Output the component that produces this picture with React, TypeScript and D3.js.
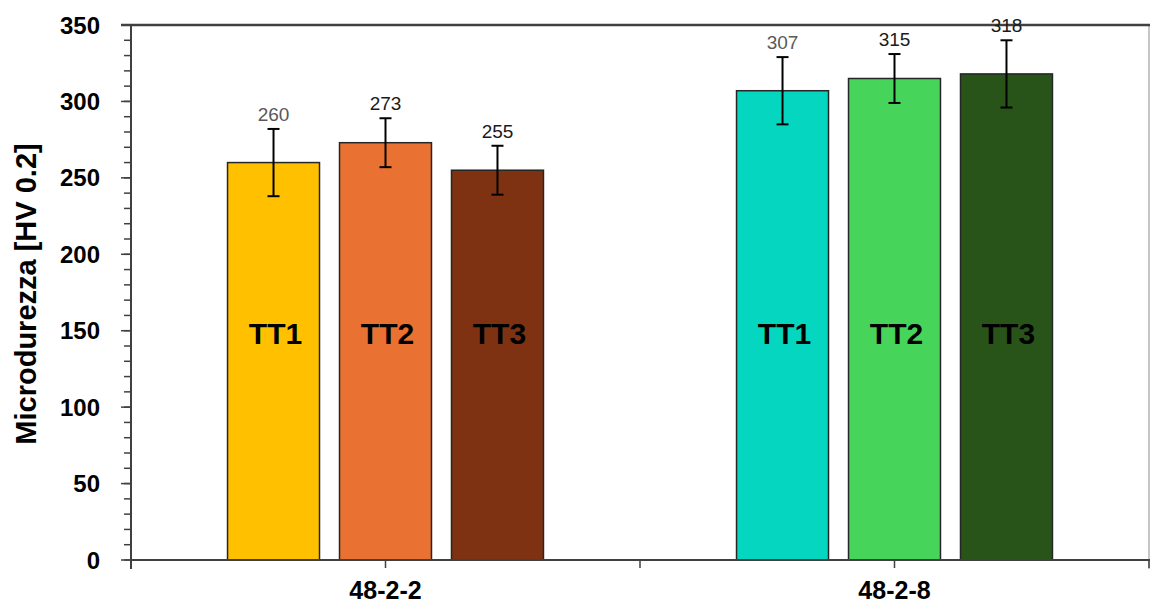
import React from "react";
import * as d3 from "d3";

// Microhardness of the two alloys after three heat treatments
const categories = ["48-2-2", "48-2-8"];
const treatments = ["TT1", "TT2", "TT3"];
const hardness48_2_2 = [260, 273, 255];
const hardness48_2_8 = [307, 315, 318];
const stdDev48_2_2 = [22, 16, 16];
const stdDev48_2_8 = [22, 16, 22];
const yTickValues = [0, 50, 100, 150, 200, 250, 300, 350];
const yMinorTickValues = d3.range(0, 351, 10);

const valuesByCategory = [hardness48_2_2, hardness48_2_8];
const errorsByCategory = [stdDev48_2_2, stdDev48_2_8];

const fills = [
  ["#FFC000", "#E97132", "#7E3211"],
  ["#04D6BF", "#47D45B", "#285419"],
];
const valueLabelColors = [
  ["#595959", "#1a1a1a", "#1a1a1a"],
  ["#595959", "#1a1a1a", "#1a1a1a"],
];

const W = 1150;
const H = 606;
const left = 131;
const right = 1149;
const top = 25;
const bottom = 560;
const FONT = "'Liberation Sans', Arial, sans-serif";

export default function App() {
  const y = d3.scaleLinear().domain([0, 350]).range([bottom, top]);
  const x = d3.scaleBand<string>().domain(categories).range([left, right]).padding(0);
  const inner = d3
    .scaleBand<string>()
    .domain(treatments)
    .range([0, x.bandwidth()])
    .paddingInner(0.1786)
    .paddingOuter(0.862);

  const xTicks: number[] = [];
  categories.forEach((c, i) => {
    const x0 = x(c)!;
    if (i === 0) xTicks.push(x0);
    xTicks.push(x0 + x.bandwidth() / 2, x0 + x.bandwidth());
  });

  const axisColor = "#404040";

  return (
    <svg
      width={W}
      height={H}
      style={{ position: "absolute", left: 0, top: 0, background: "#fff" }}
      fontFamily={FONT}
    >
      {/* frame */}
      <line x1={right} x2={right} y1={top} y2={bottom + 9} stroke="#b3b3b3" strokeWidth={1.5} />
      <line x1={left - 10} x2={right + 1} y1={top} y2={top} stroke={axisColor} strokeWidth={2.5} />

      {/* bars */}
      {categories.map((c, ci) =>
        treatments.map((t, ti) => {
          const v = valuesByCategory[ci][ti];
          const e = errorsByCategory[ci][ti];
          const bx = x(c)! + inner(t)!;
          const bw = inner.bandwidth();
          const cx = bx + bw / 2;
          return (
            <g key={c + t}>
              <rect
                x={bx}
                y={y(v)}
                width={bw}
                height={y(0) - y(v)}
                fill={fills[ci][ti]}
                stroke="#262626"
                strokeWidth={1.5}
              />
              <line x1={cx} x2={cx} y1={y(v + e)} y2={y(v - e)} stroke="#000" strokeWidth={2} />
              <line x1={cx - 6} x2={cx + 6} y1={y(v + e)} y2={y(v + e)} stroke="#000" strokeWidth={2} />
              <line x1={cx - 6} x2={cx + 6} y1={y(v - e)} y2={y(v - e)} stroke="#000" strokeWidth={2} />
              <text
                x={cx}
                y={y(v + e) - 8}
                textAnchor="middle"
                fontSize={19}
                fill={valueLabelColors[ci][ti]}
              >
                {v}
              </text>
              <text
                x={cx + 2}
                y={y(141)}
                textAnchor="middle"
                fontSize={30}
                fontWeight="bold"
                fill="#000"
              >
                {t}
              </text>
            </g>
          );
        })
      )}

      {/* y axis */}
      <line x1={left} x2={left} y1={top} y2={bottom + 9} stroke={axisColor} strokeWidth={2} />
      {yMinorTickValues.map((v) => (
        <line key={"m" + v} x1={left - 7} x2={left} y1={y(v)} y2={y(v)} stroke={axisColor} strokeWidth={1.5} />
      ))}
      {yTickValues.map((v) => (
        <g key={"t" + v}>
          <line x1={left - 10} x2={left} y1={y(v)} y2={y(v)} stroke={axisColor} strokeWidth={1.5} />
          <text
            x={100}
            y={y(v)}
            dy="0.36em"
            textAnchor="end"
            fontSize={24}
            fontWeight="bold"
            fill="#000"
          >
            {v}
          </text>
        </g>
      ))}

      {/* x axis */}
      <line x1={left} x2={right + 1} y1={bottom} y2={bottom} stroke={axisColor} strokeWidth={2} />
      {xTicks.map((t, i) => (
        <line key={"x" + i} x1={t} x2={t} y1={bottom} y2={bottom + 8} stroke={axisColor} strokeWidth={1.5} />
      ))}
      {categories.map((c) => (
        <text
          key={c}
          x={x(c)! + x.bandwidth() / 2}
          y={599}
          textAnchor="middle"
          fontSize={25}
          fontWeight="bold"
          fill="#000"
        >
          {c}
        </text>
      ))}

      {/* y axis title */}
      <text
        transform={`translate(36, ${(145 + 443) / 2}) rotate(-90)`}
        textAnchor="middle"
        fontSize={29}
        fontWeight="bold"
        fill="#000"
      >
        Microdurezza [HV 0.2]
      </text>
    </svg>
  );
}
